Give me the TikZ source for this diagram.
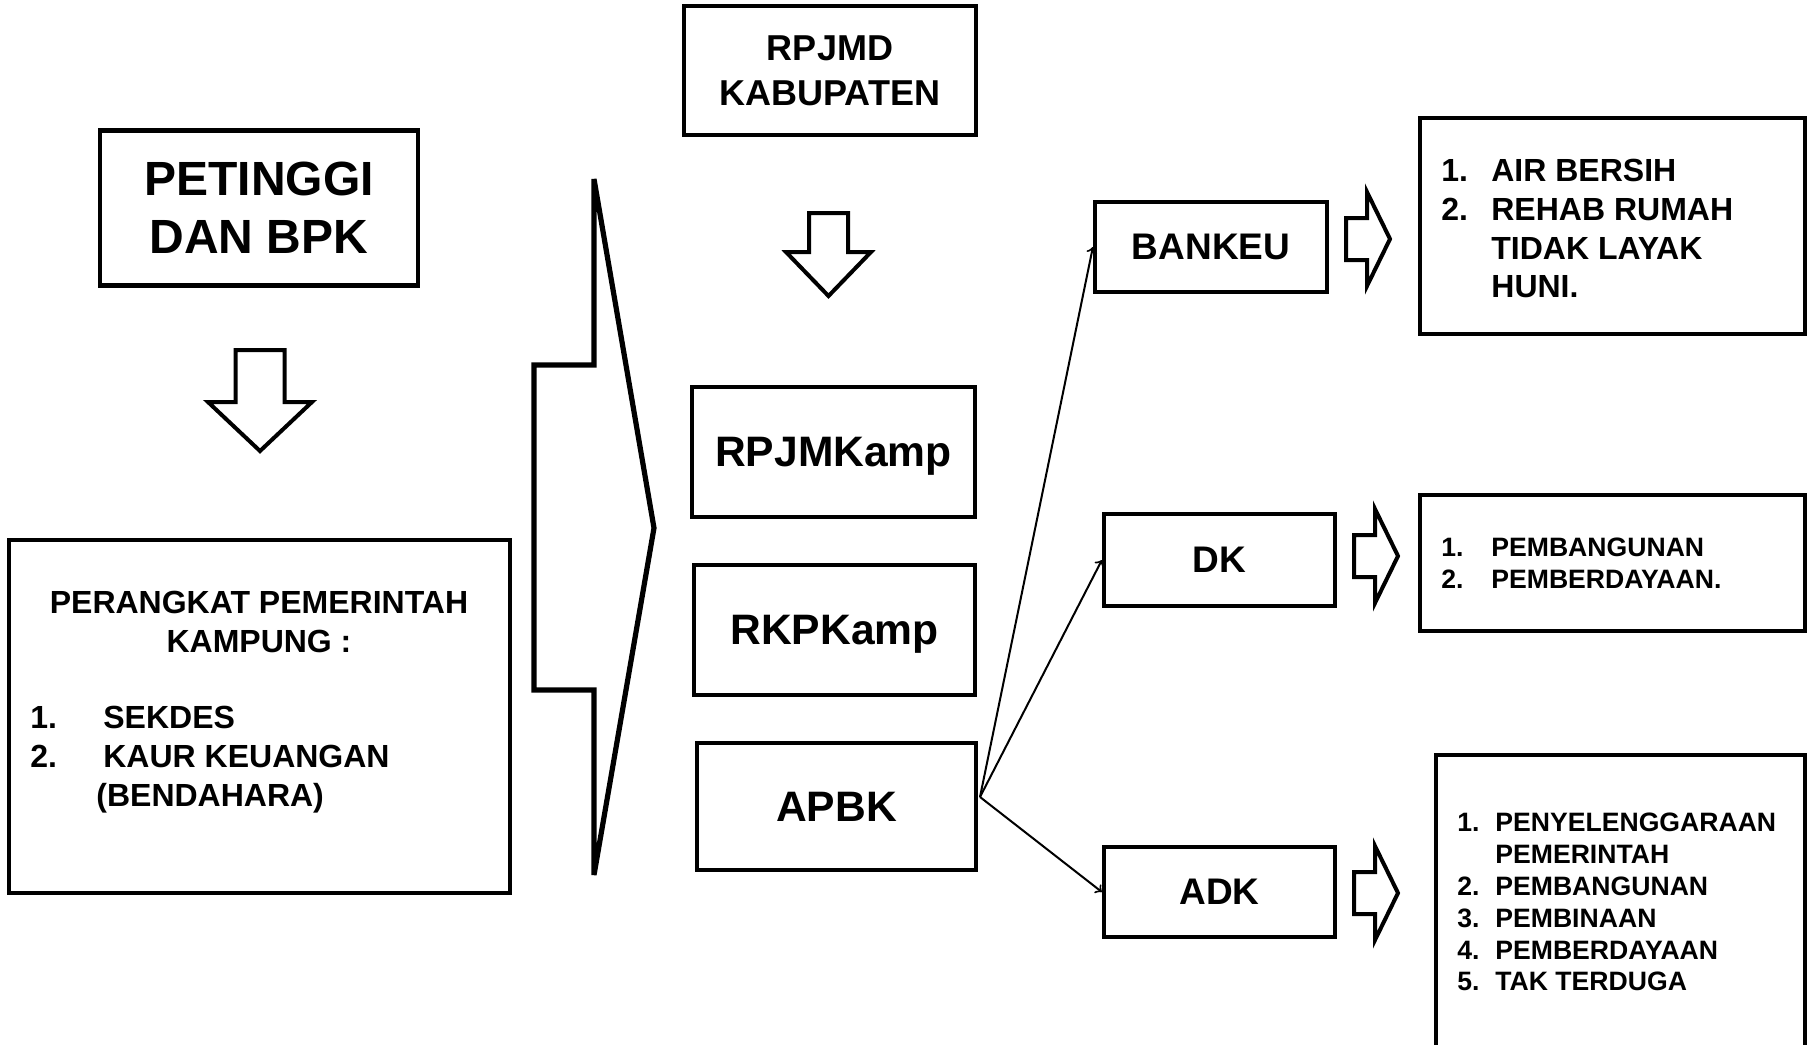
\documentclass[tikz,border=0pt]{standalone}
\usepackage{fontspec}
\setmainfont{Liberation Sans}
\usetikzlibrary{positioning}

\tikzset{
  box/.style={draw, line width=2.1pt, inner sep=0pt, align=center},
  flow/.style={line width=1pt, ->},
  blockline/.style={line width=2pt, line join=miter},
  ftitle/.style={font=\fontsize{24}{29}\selectfont\bfseries},
  fmid/.style={font=\fontsize{21.3}{26}\selectfont\bfseries},
  fsmall/.style={font=\fontsize{18.5}{22.5}\selectfont\bfseries},
  flist/.style={font=\fontsize{16}{19.4}\selectfont\bfseries},
  ftiny/.style={font=\fontsize{13.3}{16.1}\selectfont\bfseries},
  rarrow/.pic={\draw[blockline] (0,-21) -- (21,-21) -- (21,-47) -- (44,0) -- (21,47) -- (21,21) -- (0,21) -- cycle;},
}

\begin{document}
\begin{tikzpicture}[x=0.5pt, y=-0.5pt]
        \useasboundingbox (0,0) rectangle (1812,1045);

        % Left column: PETINGGI and PERANGKAT
        \node[box, ftitle, minimum width=159pt, minimum height=77.5pt] (petinggi) at (259,208) {PETINGGI\\DAN BPK};%
        \draw[blockline] (235.5,350) -- (284.5,350) -- (284.5,402) -- (312,402) -- (260,451) -- (208,402) -- (235.5,402) -- cycle;%

        \node[box, minimum width=250.5pt, minimum height=176.5pt] (perangkat) at (259.5,716.5) {};%
        \node[flist, align=center, font=\fontsize{16}{19.5}\selectfont\bfseries] (perangkathead) at (259,622) {PERANGKAT PEMERINTAH\\KAMPUNG :};%
        \node[flist, anchor=west, inner sep=0pt] (perangkatlist) at (30,760) {\begin{tabular}{@{}p{36.5pt}@{}l@{}}
          1. & SEKDES\\
          2. & KAUR KEUANGAN\\
          \multicolumn{2}{@{}l@{}}{\hspace{33pt}(BENDAHARA)}
        \end{tabular}};%

        % Big arrow into the planning column
        \draw[line width=2.6pt, line join=miter] (534,365) -- (594,365) -- (594,179) -- (654,528) -- (594,875) -- (594,690) -- (534,690) -- cycle;%

        % Middle column
        \node[box, fsmall, font=\fontsize{18}{22.5}\selectfont\bfseries, minimum width=146pt, minimum height=64.5pt] (rpjmd) at (830,70.5) {RPJMD\\KABUPATEN};%
        \draw[blockline] (809,213) -- (848,213) -- (848,252) -- (871,252) -- (828.5,296) -- (786,252) -- (809,252) -- cycle;%
        \node[box, fmid, minimum width=141.5pt, minimum height=65pt, text depth=0pt] (rpjmkamp) at (833.5,452) {RPJMKamp};%
        \node[box, fmid, minimum width=140.5pt, minimum height=65pt, text depth=0pt] (rkpkamp) at (834.5,630) {RKPKamp};%
        \node[box, fmid, minimum width=139.5pt, minimum height=63.5pt] (apbk) at (836.5,806.5) {APBK};%

        % Funding sources
        \node[box, fsmall, minimum width=116pt, minimum height=45pt] (bankeu) at (1211,247) {BANKEU};%
        \node[box, fsmall, minimum width=115.5pt, minimum height=46pt] (dk) at (1219.5,560) {DK};%
        \node[box, fsmall, minimum width=115.5pt, minimum height=45pt] (adk) at (1219.5,892) {ADK};%

        \coordinate (fan) at (980,797);
        \draw[flow] (fan) -- (bankeu.west);%
        \draw[flow] (fan) -- (dk.west);%
        \draw[flow] (fan) -- (adk.west);%

        % Small arrows to the lists
        \pic at (1346,239) {rarrow};%
        \pic at (1354,556) {rarrow};%
        \pic at (1354,893) {rarrow};%

        % Lists
        \node[box, minimum width=192.5pt, minimum height=108pt] (list1) at (1612.5,226) {};%
        \node[flist, anchor=west, inner sep=0pt] (list1txt) at (1441,232) {\begin{tabular}{@{}p{25pt}@{}l@{}}
          1. & AIR BERSIH\\
          2. & REHAB RUMAH\\
             & TIDAK LAYAK\\
             & HUNI.
        \end{tabular}};%

        \node[box, minimum width=192.5pt, minimum height=68pt] (list2) at (1612.5,563) {};%
        \node[ftiny, anchor=west, inner sep=0pt] (list2txt) at (1441,566) {\begin{tabular}{@{}p{25pt}@{}l@{}}
          1. & PEMBANGUNAN\\
          2. & PEMBERDAYAAN.
        \end{tabular}};%

        \draw[line width=2.1pt] (1436,1070) -- (1436,755) -- (1805,755) -- (1805,1070);%
        \node[ftiny, anchor=west, inner sep=0pt, font=\fontsize{13.3}{15.9}\selectfont\bfseries] (list3txt) at (1457,905) {\begin{tabular}{@{}p{19pt}@{}l@{}}
          1. & PENYELENGGARAAN\\
             & PEMERINTAH\\
          2. & PEMBANGUNAN\\
          3. & PEMBINAAN\\
          4. & PEMBERDAYAAN\\
          5. & TAK TERDUGA
        \end{tabular}};%
\end{tikzpicture}
\end{document}
